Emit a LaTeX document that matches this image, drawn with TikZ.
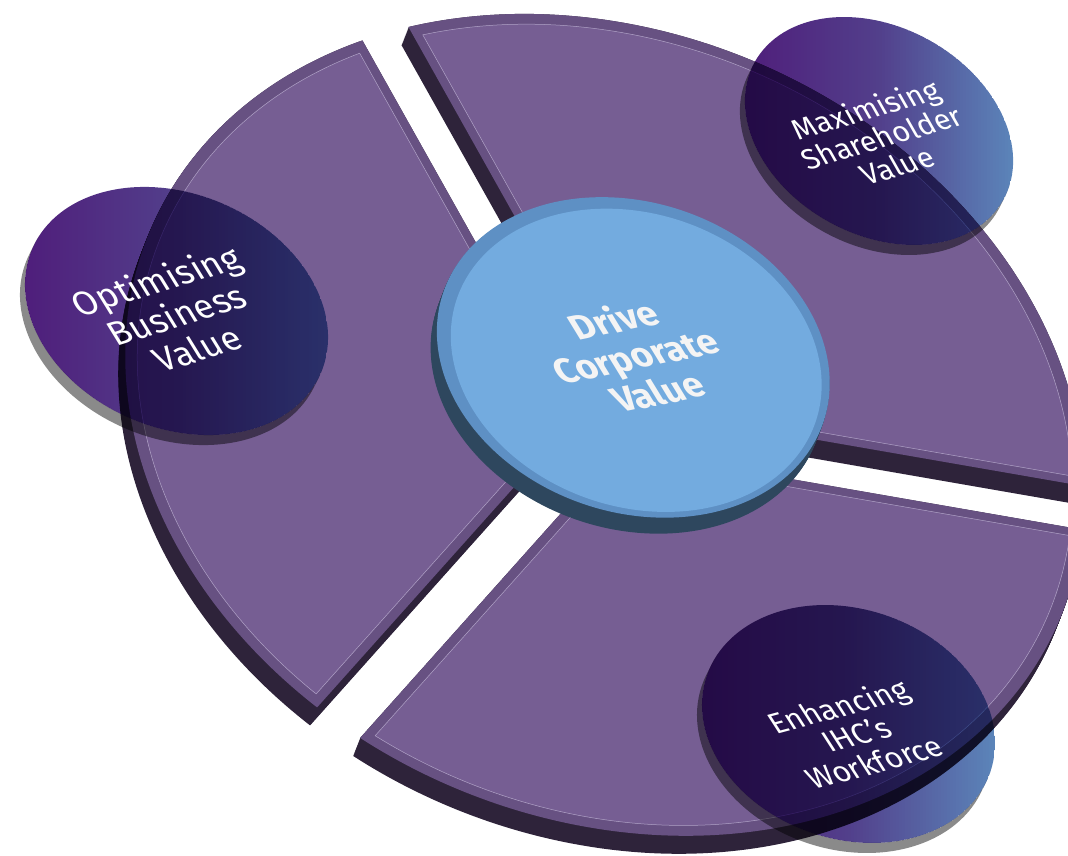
\documentclass[tikz,border=0pt]{standalone}
\usepackage{fontspec}
\newfontfamily\lblfont{Fira Sans}
\definecolor{faceP}{HTML}{765E93}
\definecolor{bevelP}{HTML}{675182}
\definecolor{wallP}{HTML}{2E233A}
\definecolor{lineP}{HTML}{B0A2C6}
\definecolor{discTop}{HTML}{73ABDF}
\definecolor{discBevel}{HTML}{5E90C4}
\definecolor{discSide}{HTML}{2E475E}
\definecolor{gradL}{HTML}{4F1E7B}
\definecolor{gradM}{HTML}{523F8B}
\definecolor{gradR}{HTML}{5B84B9}
\definecolor{shadowG}{HTML}{8A8A8A}
\definecolor{txtW}{HTML}{F4F4F4}
\newcommand\ringseg[5]{({#1+asin(#3/#4)}:#4) arc[start angle={#1+asin(#3/#4)}, end angle={#2-asin(#3/#4)}, radius=#4] -- ({#2-asin(#3/#5)}:#5) arc[start angle={#2-asin(#3/#5)}, end angle={#1+asin(#3/#5)}, radius=#5] -- cycle}
% #1 cx, #2 cy, #3 rotation, #4 a, #5 b, #6 left x (integer), #7 number of 3px strips minus one
\newcommand\valuecircle[7]{%
 \begin{scope}[even odd rule]
  \clip (-20,-20) rectangle (1100,900) (#1,#2) ellipse[x radius=#4pt,y radius=#5pt,rotate=#3];
  \fill[shadowG,blend mode=multiply,nonzero rule] foreach \k in {1,...,10}{({#1-0.5*\k},{#2+\k}) ellipse[x radius=#4pt,y radius=#5pt,rotate=#3]};
 \end{scope}
 \begin{scope}
  \clip (#1,#2) ellipse[x radius=#4pt,y radius=#5pt,rotate=#3];
  \foreach \i in {0,...,#7}{%
    \pgfmathsetmacro\gt{\i/#7}%
    \pgfmathsetmacro\pa{min(100,200*\gt)}%
    \pgfmathsetmacro\pb{max(0,200*\gt-100)}%
    \colorlet{stripc}{gradM!\pa!gradL}%
    \colorlet{stripc}{gradR!\pb!stripc}%
    \fill[stripc,blend mode=multiply] ({#6+3*\i},{#2-#4}) rectangle ({#6+3*\i+3},{#2+#4});
  }
 \end{scope}}
\begin{document}
\begin{tikzpicture}[x=1pt,y=-1pt,
 ringspace/.style={x=1pt,y=1pt,cm={472.86,0,80.60,-410.91,(604.9pt,-424.8pt)}},
 lbl/.style={text=white, align=center, inner sep=0pt, transform shape}]
\useasboundingbox (0,0) rectangle (1068,855);
% ring walls (extrusion)
\foreach \k in {0,1,...,18}{
  \foreach \s/\e in {11.7/133.45,133.45/252.4,252.4/371.7}{
    \fill[shift={({-0.39*\k},{\k})},ringspace,wallP] \ringseg{\s}{\e}{0.054}{1}{0.18};
  }}
% ring top faces
\foreach \s/\e in {11.7/133.45,133.45/252.4,252.4/371.7}{
  \fill[ringspace,bevelP] \ringseg{\s}{\e}{0.054}{1}{0.18};
  \fill[ringspace,faceP,draw=lineP,line width=0.5pt] \ringseg{\s}{\e}{0.074}{0.975}{0.18};
}
% central disc
\foreach \k in {1,...,16}{\fill[shift={({-0.39*\k},{\k})},ringspace,discSide] (0.088,-0.164) ellipse[x radius=0.41,y radius=0.39];}
\fill[ringspace,discBevel] (0.088,-0.164) ellipse[x radius=0.41,y radius=0.39];
\fill[ringspace,discTop] (0.093,-0.157) ellipse[x radius=0.387,y radius=0.369];
% value circles
\valuecircle{176.5}{311}{-23.3}{157.1}{116.9}{24}{101}
\valuecircle{879}{131}{-29}{142.1}{103.8}{744}{89}
\valuecircle{848.5}{724}{-18.7}{149.7}{114.9}{701}{97}
% labels
\begin{scope}[shift={(176,314)},cm={0.956,0.292,-0.541,0.880,(0,0)}]
 \node[lbl,font=\lblfont\fontsize{35}{38.6}\selectfont] (opt) at (0,0) {Optimising\\Business\\Value};
\end{scope}
\begin{scope}[shift={(881,137)},cm={0.959,0.282,-0.508,0.892,(0,0)}]
 \node[lbl,font=\lblfont\fontsize{29.5}{31.4}\selectfont] (max) at (0,0) {Maximising\\Shareholder\\Value};
\end{scope}
\begin{scope}[shift={(856,734)},cm={0.966,0.259,-0.568,0.883,(0,0)}]
 \node[lbl,font=\lblfont\fontsize{30}{31.7}\selectfont] (enh) at (0,0) {Enhancing\\IHC’s\\Workforce};
\end{scope}
\begin{scope}[shift={(635,355)},cm={0.979,0.202,-0.554,0.906,(0,0)}]
 \node[lbl,text=txtW,font=\lblfont\bfseries\fontsize{36}{39.7}\selectfont] (drive) at (0,0) {Drive\\Corporate\\Value};
\end{scope}
\end{tikzpicture}
\end{document}
